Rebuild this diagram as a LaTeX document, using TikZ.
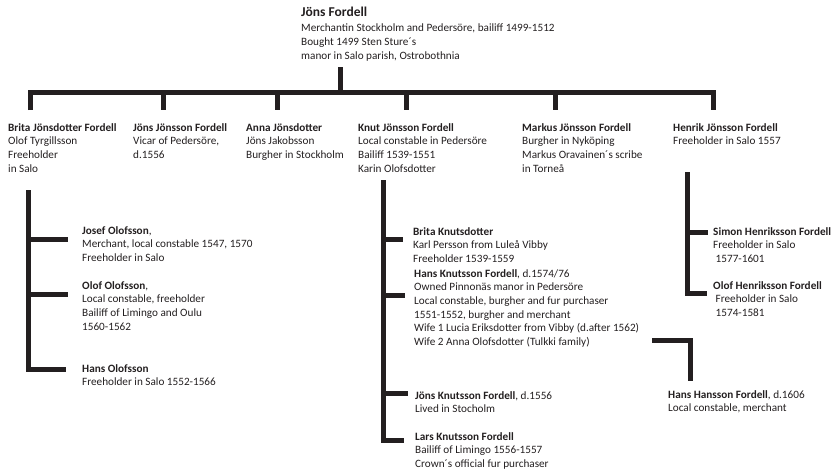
\documentclass[tikz,border=0pt]{standalone}
\usepackage{fontspec}
\setmainfont{Carlito}
\definecolor{ink}{HTML}{231F20}
\definecolor{txt}{HTML}{231F20}
\tikzset{
  person/.style={anchor=north west, inner sep=0pt, align=left, text=txt,
    font=\fontsize{11.2}{13.7}\selectfont},
  bar/.style={draw=ink, line width=5pt, line join=miter}
}
\begin{document}
\begin{tikzpicture}[x=1pt,y=-1pt]
\useasboundingbox (0,0) rectangle (835,474);
% header
\node[person] (jons) at (301,7) {{\fontsize{13.5}{14}\selectfont\bfseries Jöns Fordell}\\[1.5pt]
Merchantin Stockholm and Pedersöre, bailiff 1499-1512\\
Bought 1499 Sten Sture´s\\
manor in Salo parish, Ostrobothnia};
% generation 1
\node[person] (brita) at (8,123) {\textbf{Brita Jönsdotter Fordell}\\Olof Tyrgillsson\\Freeholder\\in Salo};
\node[person] (jonsj) at (133,123) {\textbf{Jöns Jönsson Fordell}\\Vicar of Pedersöre,\\d.1556};
\node[person] (anna) at (246,123) {\textbf{Anna Jönsdotter}\\Jöns Jakobsson\\Burgher in Stockholm};
\node[person] (knut) at (358,123) {\textbf{Knut Jönsson Fordell}\\Local constable in Pedersöre\\Bailiff 1539-1551\\Karin Olofsdotter};
\node[person] (markus) at (522,123) {\textbf{Markus Jönsson Fordell}\\Burgher in Nyköping\\Markus Oravainen´s scribe\\in Torneå};
\node[person] (henrik) at (673,123) {\textbf{Henrik Jönsson Fordell}\\Freeholder in Salo 1557};
% Brita's children
\node[person] (josef) at (82,226) {\textbf{Josef Olofsson},\\Merchant, local constable 1547, 1570\\Freeholder in Salo};
\node[person] (olof) at (82,281) {\textbf{Olof Olofsson},\\Local constable, freeholder\\Bailiff of Limingo and Oulu\\1560-1562};
\node[person] (hanso) at (82,364) {\textbf{Hans Olofsson}\\Freeholder in Salo 1552-1566};
% Knut's children
\node[person] (britak) at (413,227) {\textbf{Brita Knutsdotter}\\Karl Persson from Luleå Vibby\\Freeholder 1539-1559};
\node[person] (hansk) at (414,269) {\textbf{Hans Knutsson Fordell}, d.1574/76\\Owned Pinnonäs manor in Pedersöre\\Local constable, burgher and fur purchaser\\1551-1552, burgher and merchant\\Wife 1 Lucia Eriksdotter from Vibby (d.after 1562)\\Wife 2 Anna Olofsdotter (Tulkki family)};
\node[person] (jonsk) at (415,391) {\textbf{Jöns Knutsson Fordell}, d.1556\\Lived in Stocholm};
\node[person] (lars) at (415,432) {\textbf{Lars Knutsson Fordell}\\Bailiff of Limingo 1556-1557\\Crown´s official fur purchaser};
% Henrik's children
\node[person] (simon) at (713,227) {\textbf{Simon Henriksson Fordell}\\Freeholder in Salo\\\ 1577-1601};
\node[person] (olofh) at (713,281) {\textbf{Olof Henriksson Fordell}\\\ Freeholder in Salo\\\ 1574-1581};
% Hans's son
\node[person] (hansh) at (668,390) {\textbf{Hans Hansson Fordell}, d.1606\\Local constable, merchant};
% connector coordinates
\coordinate (stemtop) at (340,67);
\coordinate (stembot) at (340,92);
\coordinate (barL) at (30,92);
\coordinate (barR) at (713,92);
% main tree
\draw[bar] (stemtop) -- (stembot);
\draw[bar] (30,110) -- (barL) -- (barR) -- (713,110);
\draw[bar] (163,92) -- (163,110);
\draw[bar] (277,92) -- (277,110);
\draw[bar] (406,92) -- (406,110);
\draw[bar] (555,92) -- (555,110);
% Brita's children
\draw[bar] (28,190) -- (28,369) -- (66,369);
\draw[bar] (28,239) -- (68,239);
\draw[bar] (28,294) -- (68,294);
% Knut's children
\draw[bar] (383,180) -- (383,440) -- (404,440);
\draw[bar] (383,239) -- (403,239);
\draw[bar] (383,295) -- (405,295);
\draw[bar] (383,393) -- (408,393);
% Henrik's children
\draw[bar] (687,172) -- (687,293) -- (707,293);
\draw[bar] (687,232) -- (708,232);
% Hans -> Hans Hansson
\draw[bar] (652,340) -- (690,340) -- (690,381);
\end{tikzpicture}
\end{document}
